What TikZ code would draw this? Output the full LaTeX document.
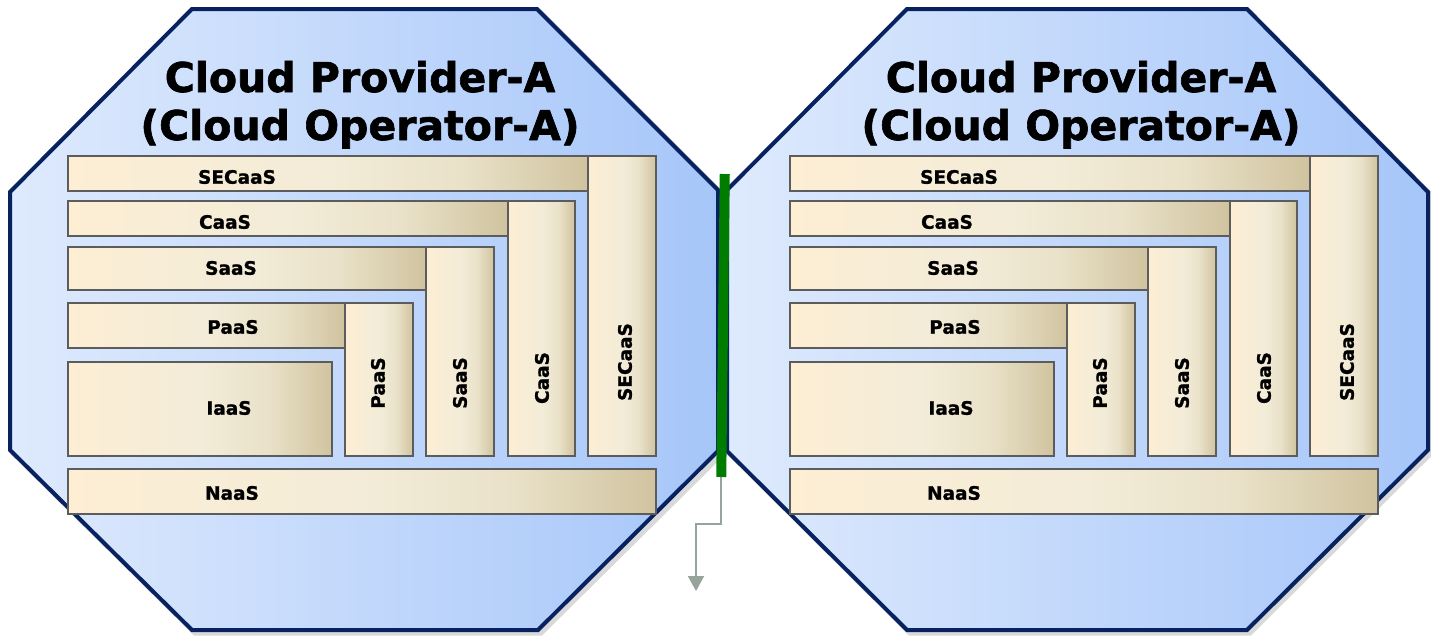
\documentclass[tikz,border=0pt]{standalone}
\usepackage{fontspec}
\setmainfont{DejaVu Sans}
\newfontfamily\lblfont{DejaVu Sans}[UprightFont={* Bold}, FakeBold=1.2]
\newfontfamily\ttlfont{DejaVu Sans}[UprightFont={* Bold}, FakeBold=1.5]
\usetikzlibrary{arrows.meta}
\definecolor{octL}{RGB}{222,234,253}
\definecolor{octR}{RGB}{166,198,249}
\definecolor{octLine}{RGB}{8,34,96}
\definecolor{boxL}{RGB}{253,238,212}
\definecolor{boxM}{RGB}{243,236,216}
\definecolor{boxN}{RGB}{233,225,200}
\definecolor{boxR}{RGB}{208,195,159}
\definecolor{boxLine}{RGB}{92,92,92}
\definecolor{linkgreen}{RGB}{0,124,0}
\definecolor{arrowgray}{RGB}{150,164,156}
\pgfdeclarehorizontalshading{boxshade}{100bp}{color(0bp)=(boxL); color(25bp)=(boxL); color(50bp)=(boxM); color(63bp)=(boxN); color(75bp)=(boxR); color(100bp)=(boxR)}
\begin{document}
\begin{tikzpicture}[x=1pt,y=-1pt,
  svc/.style={draw=boxLine, line width=2pt, shading=boxshade, inner sep=0pt, outer sep=0pt, anchor=north west},
  lbl/.style={font=\lblfont\fontsize{18.5}{22}\selectfont, inner sep=0pt},
  vlbl/.style={lbl, rotate=90},
  ttl/.style={font=\ttlfont\fontsize{41}{48}\selectfont, inner sep=0pt, anchor=base},
  octo/.style={draw=octLine, line width=4pt, line join=miter, left color=octL, right color=octR},
  octshadow/.style={draw=black, opacity=0.15, line width=5pt},
  linkarrow/.style={draw=arrowgray, line width=2pt, -{Triangle[width=16pt,length=15pt]}}
]
\useasboundingbox (0,0) rectangle (1431,640);
% shadows
\draw[octshadow] (195,12) -- (540,12) -- (721,193) -- (721,455) -- (541,633) -- (195,633) -- (13,453) -- (13,195) -- cycle;
\draw[octshadow] (910,12) -- (1250,12) -- (1431,195) -- (1431,453) -- (1250,633) -- (910,633) -- (730,454) -- (730,193) -- cycle;
% octagons
\shade[octo] (192,9) -- (537,9) -- (718,190) -- (718,451) -- (538,630) -- (192,630) -- (10,450) -- (10,192) -- cycle;
\shade[octo] (907,9) -- (1247,9) -- (1428,192) -- (1428,450) -- (1247,630) -- (907,630) -- (727,451) -- (727,190) -- cycle;
% titles
\node[ttl] (t1-L) at (360,92) {Cloud Provider-A};
\node[ttl] (t2-L) at (360,140) {(Cloud Operator-A)};
\node[ttl] (t1-R) at (1081,92) {Cloud Provider-A};
\node[ttl] (t2-R) at (1081,140) {(Cloud Operator-A)};
% service boxes
\foreach \dx/\s in {0/L,722/R}{
  \node[svc, minimum width=520pt, minimum height=35pt] (secH-\s) at ({68+\dx},156) {};
  \node[svc, minimum width=68pt, minimum height=300pt] (secV-\s) at ({588+\dx},156) {};
  \node[svc, minimum width=440pt, minimum height=35pt] (caaH-\s) at ({68+\dx},201) {};
  \node[svc, minimum width=67pt, minimum height=255pt] (caaV-\s) at ({508+\dx},201) {};
  \node[svc, minimum width=358pt, minimum height=43pt] (saaH-\s) at ({68+\dx},247) {};
  \node[svc, minimum width=68pt, minimum height=209pt] (saaV-\s) at ({426+\dx},247) {};
  \node[svc, minimum width=277pt, minimum height=45pt] (paaH-\s) at ({68+\dx},303) {};
  \node[svc, minimum width=68pt, minimum height=153pt] (paaV-\s) at ({345+\dx},303) {};
  \node[svc, minimum width=264pt, minimum height=94pt] (iaa-\s) at ({68+\dx},362) {};
  \node[svc, minimum width=588pt, minimum height=45pt] (naa-\s) at ({68+\dx},469) {};
  \node[lbl] (secHl-\s) at ({237+\dx},177) {SECaaS};
  \node[lbl] (caaHl-\s) at ({225+\dx},222) {CaaS};
  \node[lbl] (saaHl-\s) at ({231+\dx},268) {SaaS};
  \node[lbl] (paaHl-\s) at ({233+\dx},327) {PaaS};
  \node[lbl] (iaal-\s) at ({229+\dx},408) {IaaS};
  \node[lbl] (naal-\s) at ({232+\dx},493) {NaaS};
  \node[vlbl] (paaVl-\s) at ({378+\dx},383) {PaaS};
  \node[vlbl] (saaVl-\s) at ({460+\dx},383) {SaaS};
  \node[vlbl] (caaVl-\s) at ({542+\dx},378) {CaaS};
  \node[vlbl] (secVl-\s) at ({625+\dx},362) {SECaaS};
}
% green link and arrow
\node[fill=linkgreen, minimum width=10pt, minimum height=303pt, inner sep=0pt, outer sep=0pt, rotate=-0.66] (link) at (723,325.5) {};
\coordinate (tip) at (696,591);
\draw[linkarrow] (link.south) -- ++(0,47) -| (tip);
\end{tikzpicture}
\end{document}
